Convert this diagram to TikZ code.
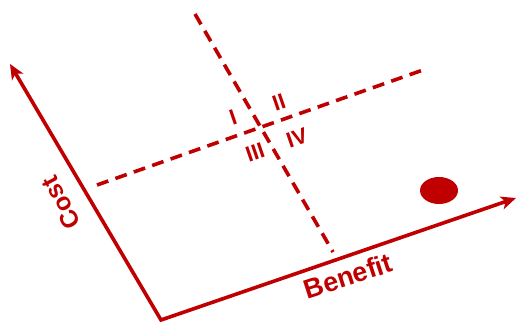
\documentclass[tikz,border=0pt]{standalone}
\usepackage{fontspec}
\setmainfont{Liberation Sans}
\usepackage{tikz}
\usetikzlibrary{arrows.meta, shapes.geometric}
\definecolor{cbred}{RGB}{192,0,0}
\tikzset{
  axisline/.style  = {draw=cbred, line width=3.6pt, line join=miter,
                      {Stealth[length=15pt,width=13pt,inset=4pt]}-{Stealth[length=15pt,width=13pt,inset=4pt]}},
  divider/.style   = {draw=cbred, line width=3.6pt, dash pattern=on 12pt off 7.5pt},
  axislab/.style   = {text=cbred, font=\fontsize{25}{28}\selectfont\bfseries, inner sep=0pt},
  quadlab/.style   = {text=cbred, font=\fontsize{22}{24}\selectfont\bfseries, inner sep=0pt, rotate=19},
  project/.style   = {ellipse, fill=cbred, minimum width=38pt, minimum height=27pt, inner sep=0pt},
}
\begin{document}
\begin{tikzpicture}[x=1pt, y=-1pt]
  \useasboundingbox (0,0) rectangle (517,323);
  % axes
  \coordinate (origin)  at (161,320);
  \coordinate (costend) at (10,64);
  \coordinate (benend)  at (516,198);
  \draw[axisline] (costend) -- (origin) -- (benend);
  \node[axislab, rotate=118] (cost)    at (61,203) {Cost};
  \node[axislab, rotate=18, font=\fontsize{27}{30}\selectfont\bfseries] (benefit) at (348,276) {Benefit};
  % quadrant dividers
  \coordinate (vtop) at (195,14);
  \coordinate (vbot) at (333,252);
  \coordinate (hlft) at (97,185);
  \coordinate (hrgt) at (423,70);
  \draw[divider] (vtop) -- (vbot);
  \draw[divider] (hlft) -- (hrgt);
  \node[quadlab] (q1) at (233,117) {I};
  \node[quadlab] (q2) at (279,102) {II};
  \node[quadlab] (q3) at (255,152) {III};
  \node[quadlab] (q4) at (297,138) {IV};
  % position
  \node[project] (dot) at (439,190.5) {};
\end{tikzpicture}
\end{document}
